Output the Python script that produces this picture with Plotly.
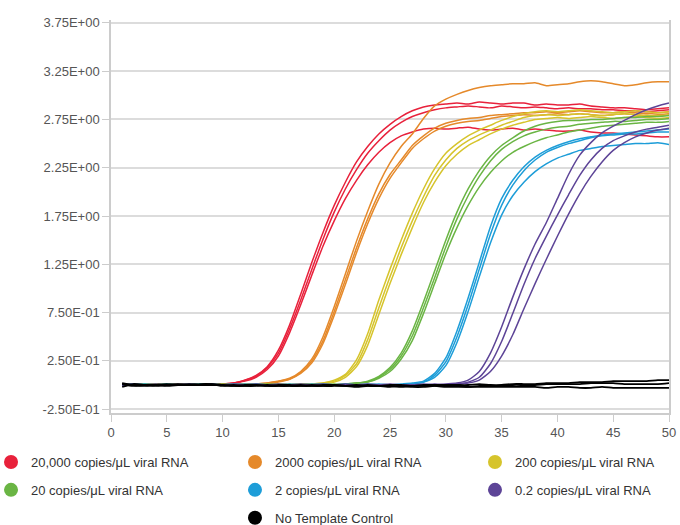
import plotly.graph_objects as go

cycles = list(range(1, 51))

# ---- 20,000 copies/uL ----
red_rep1 = [0.01, 0.00, 0.01, 0.00, 0.00, 0.01, 0.01, 0.00, 0.01, 0.01,
            0.02, 0.05, 0.10, 0.19, 0.36, 0.62, 0.94, 1.27, 1.58, 1.86,
            2.10, 2.31, 2.47, 2.60, 2.70, 2.78, 2.84, 2.88, 2.90, 2.91,
            2.92, 2.91, 2.93, 2.92, 2.91, 2.92, 2.92, 2.90, 2.91, 2.90,
            2.90, 2.91, 2.89, 2.88, 2.87, 2.87, 2.86, 2.85, 2.86, 2.87]
red_rep2 = [0.00, 0.01, 0.00, 0.00, 0.01, 0.00, 0.01, 0.00, 0.00, 0.01,
            0.02, 0.05, 0.09, 0.18, 0.33, 0.58, 0.88, 1.20, 1.51, 1.79,
            2.03, 2.23, 2.40, 2.53, 2.64, 2.72, 2.78, 2.82, 2.85, 2.87,
            2.88, 2.89, 2.88, 2.87, 2.89, 2.88, 2.87, 2.88, 2.87, 2.86,
            2.87, 2.86, 2.86, 2.85, 2.85, 2.84, 2.84, 2.83, 2.84, 2.85]
red_rep3 = [0.01, 0.00, 0.00, 0.01, 0.00, 0.00, 0.01, 0.01, 0.00, 0.00,
            0.02, 0.04, 0.08, 0.16, 0.30, 0.54, 0.83, 1.14, 1.44, 1.70,
            1.93, 2.12, 2.28, 2.41, 2.51, 2.58, 2.62, 2.65, 2.66, 2.65,
            2.66, 2.67, 2.65, 2.64, 2.65, 2.66, 2.64, 2.65, 2.64, 2.63,
            2.63, 2.64, 2.62, 2.61, 2.61, 2.60, 2.59, 2.58, 2.57, 2.57]

# ---- 2000 copies/uL ----
orange_rep1 = [0.00, 0.01, 0.00, 0.00, 0.01, 0.00, 0.00, 0.01, 0.00, 0.00,
               0.01, 0.00, 0.01, 0.02, 0.04, 0.07, 0.14, 0.27, 0.50, 0.81,
               1.15, 1.49, 1.80, 2.08, 2.30, 2.47, 2.60, 2.76, 2.89, 2.96,
               3.01, 3.05, 3.08, 3.10, 3.11, 3.12, 3.12, 3.13, 3.10, 3.11,
               3.12, 3.14, 3.15, 3.14, 3.12, 3.10, 3.11, 3.13, 3.14, 3.14]
orange_rep2 = [0.01, 0.00, 0.00, 0.01, 0.00, 0.01, 0.00, 0.00, 0.00, 0.01,
               0.00, 0.01, 0.01, 0.02, 0.04, 0.06, 0.13, 0.25, 0.46, 0.76,
               1.09, 1.42, 1.72, 1.98, 2.18, 2.33, 2.48, 2.58, 2.66, 2.71,
               2.74, 2.76, 2.77, 2.79, 2.80, 2.81, 2.82, 2.82, 2.83, 2.82,
               2.83, 2.84, 2.83, 2.82, 2.82, 2.83, 2.82, 2.81, 2.82, 2.83]
orange_rep3 = [0.00, 0.00, 0.01, 0.00, 0.00, 0.00, 0.01, 0.00, 0.01, 0.00,
               0.00, 0.01, 0.01, 0.01, 0.03, 0.06, 0.12, 0.23, 0.43, 0.72,
               1.04, 1.37, 1.67, 1.93, 2.14, 2.30, 2.45, 2.55, 2.63, 2.68,
               2.71, 2.73, 2.74, 2.76, 2.78, 2.79, 2.80, 2.79, 2.80, 2.81,
               2.80, 2.81, 2.80, 2.79, 2.80, 2.81, 2.80, 2.79, 2.80, 2.81]

# ---- 200 copies/uL ----
yellow_rep1 = [0.00, 0.01, 0.00, 0.00, 0.01, 0.00, 0.00, 0.00, 0.01, 0.00,
               0.00, 0.01, 0.00, 0.00, 0.01, 0.00, 0.01, 0.01, 0.02, 0.05,
               0.11, 0.26, 0.53, 0.88, 1.20, 1.50, 1.78, 2.03, 2.24, 2.40,
               2.50, 2.58, 2.64, 2.69, 2.74, 2.78, 2.81, 2.83, 2.84, 2.83,
               2.84, 2.85, 2.84, 2.83, 2.82, 2.83, 2.84, 2.83, 2.82, 2.83]
yellow_rep2 = [0.01, 0.00, 0.00, 0.01, 0.00, 0.00, 0.01, 0.00, 0.00, 0.00,
               0.01, 0.00, 0.00, 0.01, 0.00, 0.00, 0.00, 0.01, 0.02, 0.04,
               0.10, 0.22, 0.47, 0.80, 1.12, 1.42, 1.70, 1.95, 2.17, 2.33,
               2.45, 2.53, 2.59, 2.64, 2.69, 2.73, 2.77, 2.79, 2.80, 2.79,
               2.80, 2.81, 2.80, 2.79, 2.80, 2.81, 2.80, 2.79, 2.79, 2.80]
yellow_rep3 = [0.00, 0.00, 0.01, 0.00, 0.00, 0.01, 0.00, 0.01, 0.00, 0.00,
               0.00, 0.00, 0.01, 0.00, 0.00, 0.01, 0.00, 0.00, 0.01, 0.03,
               0.08, 0.19, 0.41, 0.73, 1.05, 1.35, 1.63, 1.89, 2.10, 2.27,
               2.39, 2.48, 2.54, 2.60, 2.65, 2.69, 2.72, 2.75, 2.76, 2.77,
               2.76, 2.77, 2.78, 2.77, 2.76, 2.77, 2.78, 2.77, 2.76, 2.77]

# ---- 20 copies/uL ----
green_rep1 = [0.00, 0.01, 0.00, 0.00, 0.00, 0.01, 0.00, 0.00, 0.01, 0.00,
              0.00, 0.00, 0.01, 0.00, 0.00, 0.00, 0.01, 0.00, 0.00, 0.00,
              0.01, 0.02, 0.04, 0.09, 0.18, 0.33, 0.56, 0.86, 1.18, 1.50,
              1.79, 2.03, 2.22, 2.37, 2.48, 2.56, 2.63, 2.68, 2.71, 2.73,
              2.74, 2.74, 2.75, 2.75, 2.76, 2.77, 2.77, 2.78, 2.78, 2.79]
green_rep2 = [0.01, 0.00, 0.00, 0.01, 0.00, 0.00, 0.00, 0.01, 0.00, 0.00,
              0.01, 0.00, 0.00, 0.00, 0.01, 0.00, 0.00, 0.00, 0.01, 0.00,
              0.01, 0.02, 0.03, 0.08, 0.16, 0.30, 0.51, 0.80, 1.11, 1.43,
              1.72, 1.96, 2.16, 2.32, 2.44, 2.52, 2.58, 2.62, 2.65, 2.67,
              2.68, 2.70, 2.71, 2.72, 2.73, 2.73, 2.74, 2.75, 2.75, 2.76]
green_rep3 = [0.00, 0.00, 0.01, 0.00, 0.01, 0.00, 0.00, 0.00, 0.00, 0.01,
              0.00, 0.00, 0.00, 0.01, 0.00, 0.00, 0.00, 0.00, 0.00, 0.01,
              0.00, 0.02, 0.03, 0.07, 0.14, 0.27, 0.46, 0.74, 1.05, 1.36,
              1.63, 1.86, 2.05, 2.20, 2.32, 2.41, 2.47, 2.52, 2.56, 2.59,
              2.62, 2.64, 2.66, 2.68, 2.69, 2.70, 2.71, 2.72, 2.72, 2.73]

# ---- 2 copies/uL ----
blue_rep1 = [0.00, 0.00, 0.01, 0.00, 0.00, 0.00, 0.01, 0.00, 0.00, 0.00,
             0.01, 0.00, 0.00, 0.00, 0.00, 0.01, 0.00, 0.00, 0.00, 0.00,
             0.01, 0.00, 0.00, 0.00, 0.00, 0.01, 0.02, 0.04, 0.12, 0.28,
             0.56, 0.90, 1.27, 1.64, 1.93, 2.12, 2.26, 2.36, 2.43, 2.48,
             2.52, 2.55, 2.57, 2.59, 2.60, 2.61, 2.62, 2.63, 2.64, 2.65]
blue_rep2 = [0.01, 0.00, 0.00, 0.00, 0.01, 0.00, 0.00, 0.00, 0.01, 0.00,
             0.00, 0.00, 0.01, 0.00, 0.00, 0.00, 0.00, 0.01, 0.00, 0.00,
             0.00, 0.00, 0.01, 0.00, 0.00, 0.00, 0.01, 0.03, 0.10, 0.24,
             0.50, 0.83, 1.20, 1.56, 1.86, 2.07, 2.22, 2.33, 2.41, 2.46,
             2.50, 2.53, 2.56, 2.58, 2.59, 2.60, 2.60, 2.61, 2.62, 2.62]
blue_rep3 = [0.00, 0.01, 0.00, 0.00, 0.00, 0.00, 0.00, 0.01, 0.00, 0.00,
             0.00, 0.01, 0.00, 0.00, 0.00, 0.00, 0.00, 0.00, 0.01, 0.00,
             0.00, 0.00, 0.00, 0.01, 0.00, 0.00, 0.01, 0.03, 0.08, 0.20,
             0.44, 0.76, 1.12, 1.47, 1.76, 1.96, 2.10, 2.21, 2.29, 2.35,
             2.39, 2.43, 2.45, 2.47, 2.48, 2.49, 2.50, 2.50, 2.51, 2.49]

# ---- 0.2 copies/uL ----
purple_rep1 = [0.00, 0.00, 0.00, 0.01, 0.00, 0.00, 0.00, 0.00, 0.01, 0.00,
               0.00, 0.00, 0.00, 0.00, 0.01, 0.00, 0.00, 0.00, 0.00, 0.00,
               0.01, 0.00, 0.00, 0.00, 0.00, 0.00, 0.00, 0.01, 0.00, 0.01,
               0.02, 0.05, 0.14, 0.33, 0.60, 0.91, 1.20, 1.46, 1.68, 1.93,
               2.18, 2.38, 2.51, 2.61, 2.68, 2.74, 2.80, 2.85, 2.89, 2.92]
purple_rep2 = [0.00, 0.01, 0.00, 0.00, 0.00, 0.00, 0.01, 0.00, 0.00, 0.00,
               0.00, 0.00, 0.01, 0.00, 0.00, 0.00, 0.00, 0.00, 0.01, 0.00,
               0.00, 0.00, 0.00, 0.00, 0.01, 0.00, 0.00, 0.00, 0.00, 0.00,
               0.01, 0.03, 0.08, 0.22, 0.45, 0.74, 1.04, 1.31, 1.54, 1.76,
               1.97, 2.17, 2.33, 2.45, 2.53, 2.58, 2.62, 2.65, 2.67, 2.69]
purple_rep3 = [0.01, 0.00, 0.00, 0.00, 0.00, 0.01, 0.00, 0.00, 0.00, 0.00,
               0.01, 0.00, 0.00, 0.00, 0.00, 0.00, 0.01, 0.00, 0.00, 0.00,
               0.00, 0.00, 0.01, 0.00, 0.00, 0.00, 0.00, 0.00, 0.01, 0.00,
               0.01, 0.02, 0.05, 0.14, 0.30, 0.52, 0.79, 1.05, 1.30, 1.54,
               1.77, 1.98, 2.16, 2.31, 2.43, 2.51, 2.57, 2.61, 2.64, 2.66]

# ---- No Template Control ----
ntc_rep1 = [0.02, 0.00, -0.01, 0.00, 0.01, 0.00, 0.00, 0.01, 0.01, 0.00,
            -0.01, 0.00, 0.00, -0.01, 0.00, 0.00, -0.01, -0.01, 0.00, 0.00,
            -0.01, -0.01, 0.00, -0.01, 0.00, 0.00, -0.01, 0.00, 0.00, 0.00,
            0.00, 0.00, 0.01, 0.00, 0.00, 0.01, 0.01, 0.01, 0.02, 0.02,
            0.02, 0.03, 0.03, 0.03, 0.04, 0.04, 0.04, 0.04, 0.05, 0.05]
ntc_rep2 = [-0.02, 0.01, 0.00, -0.01, 0.00, 0.01, 0.00, 0.00, 0.01, -0.01,
            0.00, -0.01, -0.01, 0.00, -0.01, -0.01, 0.00, -0.01, -0.01, 0.00,
            -0.01, 0.00, -0.01, -0.01, -0.01, -0.02, -0.01, -0.01, -0.01, -0.01,
            -0.01, -0.02, -0.01, -0.01, -0.01, 0.00, 0.00, 0.00, 0.01, 0.01,
            0.01, 0.01, 0.02, 0.02, 0.02, 0.01, 0.01, 0.01, 0.01, 0.02]
ntc_rep3 = [0.01, -0.01, 0.00, 0.00, -0.01, 0.00, 0.01, 0.00, 0.00, 0.00,
            -0.01, -0.01, 0.00, -0.01, -0.01, -0.01, -0.01, 0.00, -0.01, -0.01,
            -0.01, -0.02, -0.01, -0.01, -0.02, -0.01, -0.02, -0.02, -0.01, -0.02,
            -0.02, -0.02, -0.02, -0.02, -0.02, -0.02, -0.02, -0.02, -0.03, -0.02,
            -0.02, -0.03, -0.03, -0.02, -0.03, -0.03, -0.03, -0.03, -0.03, -0.03]

series_names = ["20,000 copies/μL viral RNA", "2000 copies/μL viral RNA",
                "200 copies/μL viral RNA", "20 copies/μL viral RNA",
                "2 copies/μL viral RNA", "0.2 copies/μL viral RNA",
                "No Template Control"]
series_reps = [[red_rep1, red_rep2, red_rep3],
               [orange_rep1, orange_rep2, orange_rep3],
               [yellow_rep1, yellow_rep2, yellow_rep3],
               [green_rep1, green_rep2, green_rep3],
               [blue_rep1, blue_rep2, blue_rep3],
               [purple_rep1, purple_rep2, purple_rep3],
               [ntc_rep1, ntc_rep2, ntc_rep3]]

y_tick_vals = [-0.25, 0.25, 0.75, 1.25, 1.75, 2.25, 2.75, 3.25, 3.75]
y_tick_text = ["-2.50E-01", "2.50E-01", "7.50E-01", "1.25E+00", "1.75E+00",
               "2.25E+00", "2.75E+00", "3.25E+00", "3.75E+00"]
x_tick_vals = [0, 5, 10, 15, 20, 25, 30, 35, 40, 45, 50]
x_tick_text = ["0", "5", "10", "15", "20", "25", "30", "35", "40", "45", "50"]

# styles
colors = ["#e8213b", "#e5892a", "#d6c42c", "#6ab544", "#1d9dd8", "#5d4497", "#000000"]
legend_ids = ["legend", "legend2", "legend3", "legend", "legend2", "legend3", "legend2"]

fig = go.Figure()
for name, reps, col in zip(series_names, series_reps, colors):
    w = 1.8 if col == "#000000" else 1.5
    for rep in reps:
        fig.add_trace(go.Scatter(
            x=cycles, y=rep, mode="lines", name=name, legendgroup=name,
            showlegend=False, line=dict(color=col, width=w, shape="spline", smoothing=0.6),
            hoverinfo="x+y+name"))

for name, col, lid in zip(series_names, colors, legend_ids):
    fig.add_trace(go.Scatter(
        x=[None], y=[None], mode="markers", name=name, legendgroup=name,
        legend=lid, showlegend=True,
        marker=dict(color=col, size=14, symbol="circle")))

legend_common = dict(orientation="v", yanchor="top", xanchor="left",
                     font=dict(size=13, color="#333333", family="Liberation Sans, Arial, sans-serif"),
                     itemsizing="trace", tracegroupgap=8, bgcolor="rgba(0,0,0,0)",
                     traceorder="grouped")
ly = -0.0865
fig.update_layout(
    width=680, height=525,
    margin=dict(l=111, r=11, t=20, b=112, autoexpand=False),
    paper_bgcolor="white", plot_bgcolor="white",
    font=dict(family="Liberation Sans, Arial, sans-serif", size=13, color="#555555"),
    legend=dict(x=-0.215, y=ly, **legend_common),
    legend2=dict(x=0.2222, y=ly, **legend_common),
    legend3=dict(x=0.6523, y=ly, **legend_common),
    xaxis=dict(range=[0, 50], tickvals=x_tick_vals, ticktext=x_tick_text,
               showgrid=False, zeroline=False, showline=True, linecolor="#cccccc",
               linewidth=1.5, ticks="outside", ticklen=7, tickcolor="#cccccc",
               tickfont=dict(size=13, color="#555555")),
    yaxis=dict(range=[-0.29, 3.78], tickvals=y_tick_vals, ticktext=y_tick_text,
               showgrid=True, gridcolor="#dcdcdc", gridwidth=1.5, zeroline=False,
               showline=True, mirror=True, linecolor="#cccccc", linewidth=1.5,
               ticks="outside", ticklen=7, tickcolor="#cccccc",
               tickfont=dict(size=13, color="#555555")),
)

fig.write_html("out.html",
               config={"displayModeBar": False},
               post_script="document.body.style.margin='0';document.body.style.overflow='hidden';")
